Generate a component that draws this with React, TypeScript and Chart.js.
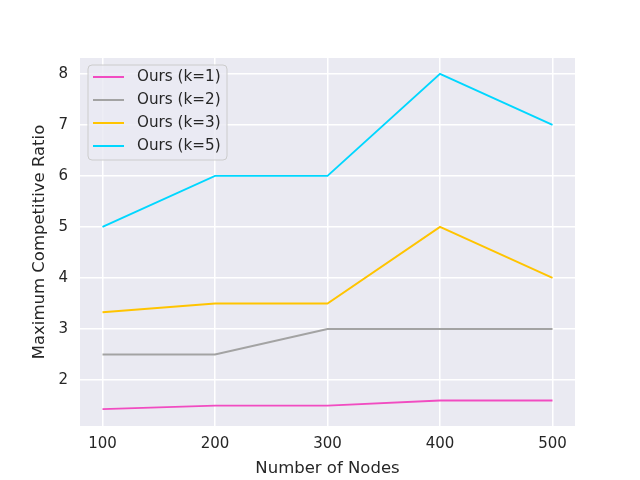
import React, { useEffect, useRef } from "react";
import { Chart, registerables } from "chart.js";

Chart.register(...registerables);

const nodes = [100, 200, 300, 400, 500];
const seriesLabels = ["Ours (k=1)", "Ours (k=2)", "Ours (k=3)", "Ours (k=5)"];
const k1 = [1.43, 1.5, 1.5, 1.6, 1.6];
const k2 = [2.5, 2.5, 3, 3, 3];
const k3 = [3.33, 3.5, 3.5, 5, 4];
const k5 = [5, 6, 6, 8, 7];
const colors = ["#F14CC1", "#A3A3A3", "#FFC400", "#00D7FF"];
const xTicks = [100, 200, 300, 400, 500];
const yTicks = [2, 3, 4, 5, 6, 7, 8];

const FONT = "'DejaVu Sans', sans-serif";

const bgPlugin = {
  id: "bgPlugin",
  beforeDraw(chart: any) {
    const { ctx, chartArea } = chart;
    ctx.save();
    ctx.fillStyle = "#EAEAF2";
    ctx.fillRect(chartArea.left, chartArea.top, chartArea.right - chartArea.left, chartArea.bottom - chartArea.top);
    ctx.restore();
  },
};

const legendPlugin = {
  id: "innerLegend",
  afterDraw(chart: any) {
    const { ctx, chartArea } = chart;
    const x0 = chartArea.left + 8;
    const y0 = chartArea.top + 7;
    const w = 139;
    const h = 95;
    ctx.save();
    ctx.beginPath();
    const r = 4;
    ctx.moveTo(x0 + r, y0);
    ctx.lineTo(x0 + w - r, y0);
    ctx.quadraticCurveTo(x0 + w, y0, x0 + w, y0 + r);
    ctx.lineTo(x0 + w, y0 + h - r);
    ctx.quadraticCurveTo(x0 + w, y0 + h, x0 + w - r, y0 + h);
    ctx.lineTo(x0 + r, y0 + h);
    ctx.quadraticCurveTo(x0, y0 + h, x0, y0 + h - r);
    ctx.lineTo(x0, y0 + r);
    ctx.quadraticCurveTo(x0, y0, x0 + r, y0);
    ctx.closePath();
    ctx.fillStyle = "rgba(234,234,242,0.8)";
    ctx.fill();
    ctx.strokeStyle = "#CCCCCC";
    ctx.lineWidth = 1;
    ctx.stroke();
    ctx.font = `15.2px ${FONT}`;
    ctx.textBaseline = "middle";
    chart.data.datasets.forEach((ds: any, i: number) => {
      const yy = y0 + 12 + i * 23;
      ctx.strokeStyle = ds.borderColor;
      ctx.lineWidth = 2;
      ctx.beginPath();
      ctx.moveTo(x0 + 5, yy);
      ctx.lineTo(x0 + 36, yy);
      ctx.stroke();
      ctx.fillStyle = "#262626";
      ctx.fillText(ds.label, x0 + 49, yy);
    });
    ctx.restore();
  },
};

export default function App() {
  const ref = useRef<HTMLCanvasElement>(null);
  useEffect(() => {
    if (!ref.current) return;
    const allSeries = [k1, k2, k3, k5];
    const chart = new Chart(ref.current, {
      type: "line",
      data: {
        datasets: allSeries.map((s, i) => ({
          label: seriesLabels[i],
          data: nodes.map((n, j) => ({ x: n, y: s[j] })),
          borderColor: colors[i],
          backgroundColor: colors[i],
          borderWidth: 1.9,
          pointRadius: 0,
          tension: 0,
        })),
      },
      options: {
        animation: false,
        responsive: false,
        maintainAspectRatio: false,
        layout: { padding: { top: 58, right: 65, left: 0, bottom: 0 } },
        plugins: { legend: { display: false }, tooltip: { enabled: false } },
        scales: {
          x: {
            type: "linear",
            min: 80,
            max: 520,
            afterBuildTicks: (axis: any) => {
              axis.ticks = xTicks.map((v) => ({ value: v }));
            },
            afterFit: (scale: any) => {
              scale.height = 54;
            },
            grid: { color: "#FFFFFF", lineWidth: 1.5, drawTicks: false },
            border: { display: false },
            ticks: { color: "#262626", font: { family: FONT, size: 15 }, padding: 9, maxRotation: 0 },
            title: { display: true, text: "Number of Nodes", color: "#262626", font: { family: FONT, size: 16.5 }, padding: { top: 2, bottom: 1 } },
          },
          y: {
            type: "linear",
            min: 1.1,
            max: 8.31,
            afterBuildTicks: (axis: any) => {
              axis.ticks = yTicks.map((v) => ({ value: v }));
            },
            afterFit: (scale: any) => {
              scale.width = 80;
            },
            grid: { color: "#FFFFFF", lineWidth: 1.5, drawTicks: false },
            border: { display: false },
            ticks: { color: "#262626", font: { family: FONT, size: 15 }, padding: 12 },
            title: { display: true, text: "Maximum Competitive Ratio", color: "#262626", font: { family: FONT, size: 16.5 }, padding: { top: 30, bottom: 0 } },
          },
        },
      } as any,
      plugins: [bgPlugin, legendPlugin],
    });
    return () => chart.destroy();
  }, []);
  return (
    <div style={{ position: "fixed", left: 0, top: 0, width: 640, height: 480, background: "#FFFFFF" }}>
      <canvas ref={ref} width={640} height={480} style={{ width: 640, height: 480 }} />
    </div>
  );
}
